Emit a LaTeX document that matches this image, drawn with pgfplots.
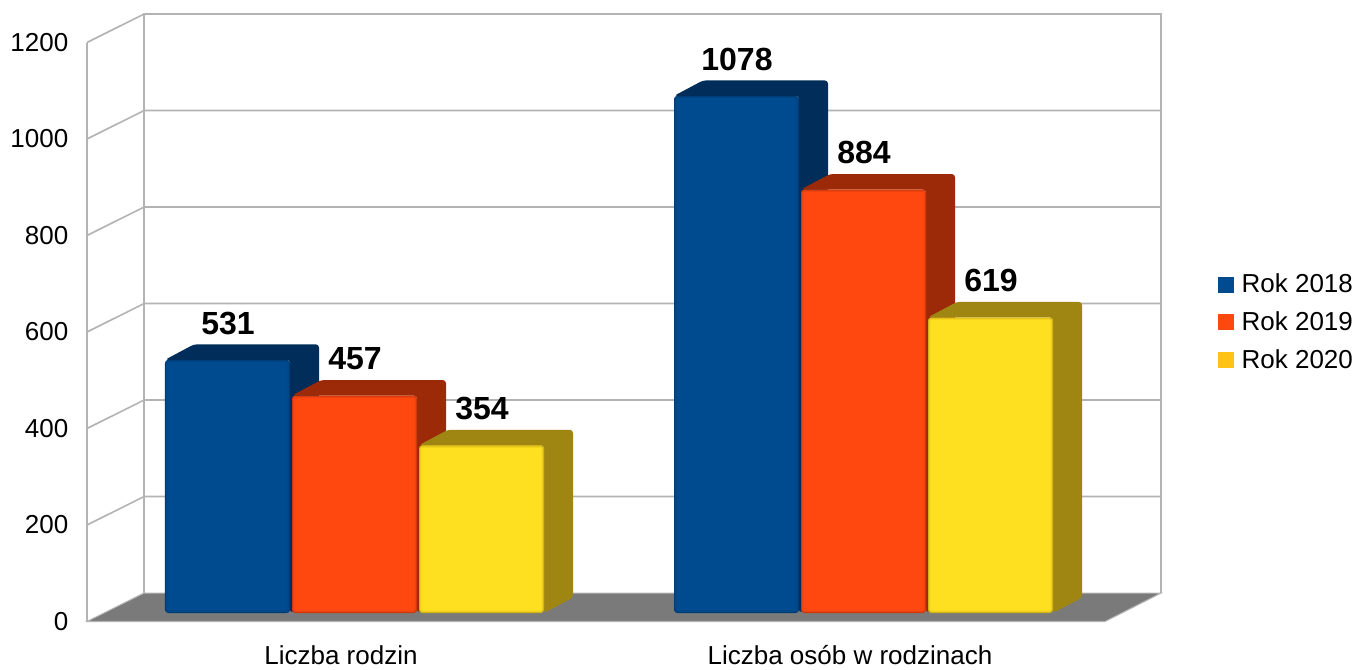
\documentclass[border=0pt]{standalone}
\usepackage{pgfplots}
\pgfplotsset{compat=1.18}
\usepackage{fontspec}
\setmainfont{Liberation Sans}
\definecolor{gridc}{HTML}{B3B3B3}
\definecolor{floorc}{HTML}{7A7A7A}
\definecolor{blueF}{HTML}{004A90}
\definecolor{blueD}{HTML}{002D59}
\definecolor{orF}{HTML}{FF4810}
\definecolor{orD}{HTML}{9C2A08}
\definecolor{yeF}{HTML}{FFE020}
\definecolor{yeD}{HTML}{9F8612}
% #1 left edge (px), #2 value, #3 front colour, #4 dark colour
\newcommand\threedbar[4]{%
  \pgfmathsetmacro\xl{#1}\pgfmathsetmacro\xr{#1+125}%
  \pgfmathsetmacro\yt{#2+11.4}\pgfmathsetmacro\yb{17.6}%
  \pgfmathsetmacro\xlb{\xl+29}\pgfmathsetmacro\xrb{\xr+29}%
  \pgfmathsetmacro\ytb{\yt+32}\pgfmathsetmacro\ybb{\yb+32}%
  \addplot[forget plot,fill=#4,draw=none,rounded corners=2.4pt] coordinates {(\xl,\yt)(\xlb,\ytb)(\xrb,\ytb)(\xrb,\ybb)(\xr,\yb)(\xr,\yt)} --cycle;
  \addplot[forget plot,fill=#3!50!#4,draw=none,rounded corners=2.4pt] coordinates {(\xl,\yb)(\xl,\yt)(\xr,\yt)(\xr,\yb)} --cycle;
  \pgfmathsetmacro\xa{\xl+1.2}\pgfmathsetmacro\xb{\xr-1.2}\pgfmathsetmacro\ya{\yt-2.4}\pgfmathsetmacro\yc{\yb+2.4}%
  \addplot[forget plot,fill=#3!82!#4,draw=none,rounded corners=1.6pt] coordinates {(\xa,\yc)(\xa,\ya)(\xb,\ya)(\xb,\yc)} --cycle;
  \pgfmathsetmacro\xa{\xl+2.4}\pgfmathsetmacro\xb{\xr-2.4}\pgfmathsetmacro\ya{\yt-4.8}\pgfmathsetmacro\yc{\yb+4.8}%
  \addplot[forget plot,fill=#3,draw=none,rounded corners=1pt] coordinates {(\xa,\yc)(\xa,\ya)(\xb,\ya)(\xb,\yc)} --cycle;
  \pgfmathsetmacro\xc{#1+63}\pgfmathsetmacro\yn{#2+87.2}%
  \edef\temp{\noexpand\node[font=\noexpand\fontsize{24}{28}\noexpand\selectfont\noexpand\bfseries,text=black,inner sep=0pt] at (axis cs:\xc,\yn) {#2};}\temp
}
\begin{document}
\begin{tikzpicture}
\path[use as bounding box] (-65.25pt,-35.625pt) rectangle (951pt,466.125pt);
\begin{axis}[
  scale only axis, width=763.5pt, height=434.25pt,
  xmin=87, xmax=1105, ymin=0, ymax=1200,
  clip=false,
  axis x line=bottom, axis y line=left,
  axis line style={-,draw=gridc,line width=1.2pt},
  major tick length=0pt,
  xtick={341,850}, xticklabels={Liczba rodzin,Liczba osób w rodzinach},
  ytick={0,200,400,600,800,1000,1200},
  tick label style={font=\fontsize{19.5}{23}\selectfont,text=black},
  yticklabel style={/pgf/number format/1000 sep={},/pgf/number format/assume math mode=true,anchor=east,xshift=-10.5pt},
  xticklabel style={anchor=center,yshift=-25.2pt},
  legend style={at={(axis cs:1218,726)},anchor=north west,draw=none,fill=none,inner sep=0pt,
    font=\fontsize{19.5}{23}\selectfont,row sep=8.7pt,nodes={inner sep=2pt}},
  legend cell align=left,
]
% back wall and side wall
\addplot[forget plot,draw=gridc,line width=1.2pt] coordinates {(144,59)(144,1259)(1161,1259)(1161,59)};
\addplot[forget plot,draw=gridc,line width=1.2pt] coordinates {(87,1200)(144,1259)};
\addplot[forget plot,draw=gridc,line width=1.2pt] coordinates {(87,200)(144,259)(1161,259)};
\addplot[forget plot,draw=gridc,line width=1.2pt] coordinates {(87,400)(144,459)(1161,459)};
\addplot[forget plot,draw=gridc,line width=1.2pt] coordinates {(87,600)(144,659)(1161,659)};
\addplot[forget plot,draw=gridc,line width=1.2pt] coordinates {(87,800)(144,859)(1161,859)};
\addplot[forget plot,draw=gridc,line width=1.2pt] coordinates {(87,1000)(144,1059)(1161,1059)};
% floor
\addplot[forget plot,fill=floorc,draw=gridc,line width=0.8pt] coordinates {(87,0)(144,59)(1161,59)(1105,0)} --cycle;
% bars
\threedbar{165}{531}{blueF}{blueD}
\threedbar{292}{457}{orF}{orD}
\threedbar{419}{354}{yeF}{yeD}
\threedbar{674}{1078}{blueF}{blueD}
\threedbar{801}{884}{orF}{orD}
\threedbar{928}{619}{yeF}{yeD}
% legend
\addlegendimage{legend image code/.code={\fill[fill=blueF,draw=none] (0pt,-6pt) rectangle (12pt,6pt);\path (15.3pt,0pt);}}
\addlegendentry{Rok 2018}
\addlegendimage{legend image code/.code={\fill[fill=orF,draw=none] (0pt,-6pt) rectangle (12pt,6pt);\path (15.3pt,0pt);}}
\addlegendentry{Rok 2019}
\addlegendimage{legend image code/.code={\fill[fill=yeF!70!orange,draw=none] (0pt,-6pt) rectangle (12pt,6pt);\path (15.3pt,0pt);}}
\addlegendentry{Rok 2020}
\end{axis}
\end{tikzpicture}
\end{document}
